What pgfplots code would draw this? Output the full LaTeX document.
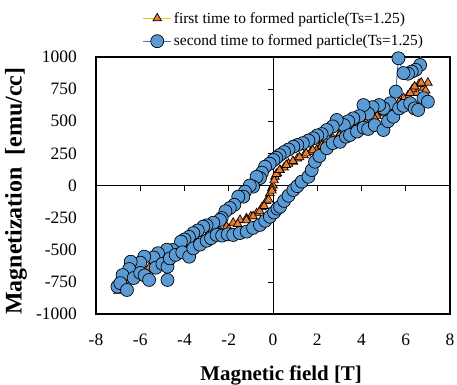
\documentclass[border=0pt]{standalone}
\usepackage{pgfplots}
\pgfplotsset{compat=1.18}
\usepackage{fontspec}
\setmainfont{Liberation Serif}
\definecolor{oline}{HTML}{FFC000}
\definecolor{ofill}{HTML}{ED7D31}
\definecolor{bline}{HTML}{4472C4}
\definecolor{bfill}{HTML}{5B9BD5}
\begin{document}
\begin{tikzpicture}
\useasboundingbox (-96bp,-71bp) rectangle (361bp,314bp);
\begin{axis}[
  at={(0,0)}, anchor=south west,
  scale only axis, width=354bp, height=257bp,
  xmin=-8, xmax=8, ymin=-1000, ymax=1000,
  xtick={-8,-6,...,8}, ytick={-1000,-750,...,1000},
  major tick length=0pt,
  axis line style={line width=1.6bp},
  /pgf/number format/assume math mode=true,
  /pgf/number format/1000 sep={},
  ticklabel style={font=\fontsize{17.5}{18}\selectfont},
  yticklabel style={anchor=east, inner sep=0pt, xshift=-19bp},
  xticklabel style={anchor=north, inner sep=0pt, yshift=-20bp},
  xlabel={\textbf{Magnetic field [T]}},
  ylabel={\textbf{Magnetization\ \ [emu/cc]}},
  xlabel style={font=\fontsize{21}{22}\selectfont, at={(axis description cs:0.523,-0.24)}, anchor=center},
  ylabel style={font=\fontsize{24}{25}\selectfont, at={(axis description cs:-0.226,0.478)}, anchor=center},
  legend style={at={(axis description cs:0.131,1.183)}, anchor=north west, draw=none, fill=none,
    font=\fontsize{15.5}{17}\selectfont, row sep=6.5bp, inner sep=0pt},
  legend cell align=left,
  legend image code/.code={\draw[mark repeat=2,mark phase=2,#1] plot coordinates {(0cm,0cm) (0.5cm,0cm) (1.0cm,0cm)};},
]
\draw[line width=0.6bp] (axis cs:0,-1000) -- (axis cs:0,1000);
\draw[line width=0.6bp] (axis cs:-8,0) -- (axis cs:8,0);
\pgfplotsinvokeforeach{-6,-4,-2,2,4,6}{\draw[line width=0.6bp] (axis cs:#1,0) -- ([yshift=-5bp]axis cs:#1,0);}
\pgfplotsinvokeforeach{-750,-500,-250,250,500,750}{\draw[line width=0.6bp] (axis cs:0,#1) -- ([xshift=-5bp]axis cs:0,#1);}

\addplot[color=oline, line width=1bp, mark=triangle*, mark size=5bp,
  mark options={fill=ofill, draw=black, line width=0.7bp}] coordinates {
(7.0,800)(6.8,760)(6.6,790)(6.5,720)(6.3,750)(6.1,700)(5.9,680)(5.7,650)(5.5,620)(5.3,600)
(5.0,570)(4.7,540)(4.4,510)(4.24,470)(4.0,490)(3.7,460)(3.4,430)(3.03,406)(2.7,370)(2.4,340)
(2.1,300)(1.97,276)(1.7,260)(1.4,235)(1.1,210)(0.92,185)(0.7,170)(0.5,140)(0.32,121)(0.2,95)
(0.09,68)(0.0,0)(-0.05,-20)(-0.14,-60)(-0.3,-120)(-0.5,-170)(-0.74,-216)(-1.0,-240)(-1.2,-255)(-1.49,-268)
(-1.8,-290)(-2.1,-320)(-2.4,-350)(-2.7,-380)(-3.0,-400)(-3.4,-430)(-3.8,-470)(-4.2,-500)(-4.6,-540)(-5.0,-570)
(-5.4,-610)(-5.8,-650)(-6.2,-690)(-6.6,-740)(-6.9,-790)(-7.0,-820)
(-6.8,-780)(-6.4,-720)(-6.0,-680)(-5.6,-640)(-5.2,-600)(-4.8,-560)(-4.4,-520)(-4.0,-490)(-3.6,-460)(-3.2,-430)
(-2.8,-400)(-2.4,-370)(-2.0,-340)(-1.6,-300)(-1.2,-270)(-0.9,-240)(-0.6,-200)(-0.4,-160)(-0.2,-110)(-0.05,-40)
(0.05,40)(0.15,90)(0.3,120)(0.6,160)(0.9,190)(1.2,220)(1.5,250)(1.8,275)(2.2,310)(2.6,350)
(3.0,390)(3.4,420)(3.8,450)(4.2,490)(4.6,520)(5.0,560)(5.4,600)(5.8,640)(6.2,720)(6.4,770)(6.7,800)(6.9,740)
};
\addlegendentry{first time to formed particle(Ts=1.25)}

\addplot[color=bline, line width=1bp, mark=*, mark size=6.5bp,
  mark options={fill=bfill, draw=black, line width=0.7bp}] coordinates {
(6.65,938)(6.45,900)(6.27,886)(6.1,870)(5.9,875)(5.67,990)
(5.55,730)(5.3,640)(5.0,600)(4.8,626)(4.5,610)(4.3,560)(4.09,626)(3.9,540)(3.63,523)(3.4,500)
(3.2,470)(2.88,510)(2.7,460)(2.43,432)(2.2,400)(2.0,390)(1.82,367)(1.6,350)(1.35,330)(1.1,315)
(0.92,302)(0.7,280)(0.5,260)(0.3,237)(0.15,215)(0.02,198)(-0.15,170)(-0.36,146)(-0.5,100)(-0.59,58)
(-0.74,68)(-0.9,-9)(-1.05,0)(-1.27,-48)(-1.34,-87)(-1.57,-87)(-1.75,-150)(-1.95,-175)(-2.15,-200)(-2.32,-253)
(-2.4,-268)(-2.7,-290)(-3.0,-310)(-3.15,-320)(-3.4,-350)(-3.6,-370)(-3.8,-400)(-4.0,-420)(-4.16,-437)(-4.54,-502)
(-4.8,-500)(-5.2,-527)(-5.4,-560)(-5.82,-554)(-6.0,-600)(-6.43,-593)(-6.5,-650)(-6.8,-697)(-7.03,-787)
(-6.9,-760)(-6.6,-813)(-6.3,-720)(-6.0,-680)(-5.8,-700)(-5.6,-735)(-5.3,-640)(-5.0,-610)(-4.77,-735)(-4.77,-632)
(-4.66,-567)(-4.4,-540)(-4.1,-520)(-3.79,-554)(-3.6,-489)(-3.3,-460)(-3.0,-430)(-2.8,-410)(-2.55,-385)(-2.3,-390)
(-2.05,-380)(-1.8,-385)(-1.5,-370)(-1.19,-359)(-0.9,-330)(-0.59,-307)(-0.35,-275)(-0.14,-243)(0.05,-210)(0.2,-180)
(0.32,-165)(0.5,-120)(0.7,-80)(0.92,-35)(1.1,-5)(1.3,30)(1.6,68)(1.75,120)(1.9,185)(2.1,230)
(2.43,290)(2.7,330)(3.03,340)(3.3,380)(3.48,393)(3.8,420)(4.1,450)(4.3,440)(4.6,470)(4.99,432)
(5.2,500)(5.44,535)(5.7,600)(5.9,620)(6.2,640)(6.4,600)(6.56,588)(6.8,680)(7.0,652)
};
\addlegendentry{second time to formed particle(Ts=1.25)}
\addplot[color=bline, line width=1bp, forget plot] coordinates {(6.65,938)(6.72,1150)};
\end{axis}
\end{tikzpicture}
\end{document}
